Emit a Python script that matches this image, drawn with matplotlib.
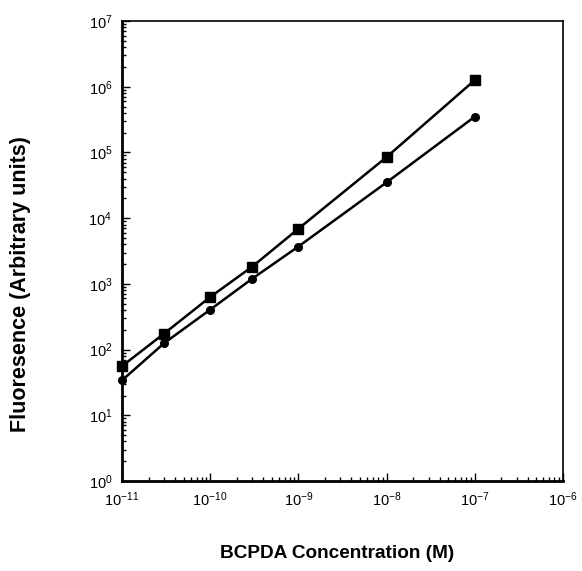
import numpy as np
import matplotlib
matplotlib.use("Agg")
import matplotlib.pyplot as plt
from matplotlib.ticker import LogLocator, NullFormatter

plt.rcParams["font.family"] = ["Liberation Sans", "DejaVu Sans"]
plt.rcParams["mathtext.fontset"] = "custom"
plt.rcParams["mathtext.rm"] = "Liberation Sans"
plt.rcParams["mathtext.it"] = "Liberation Sans"
plt.rcParams["mathtext.bf"] = "Liberation Sans:bold"

# BCPDA concentration (M)
concentration = [1e-11, 3e-11, 1e-10, 3e-10, 1e-9, 1e-8, 1e-7]
# fluorescence, square series
fluor_squares = [56, 175, 630, 1830, 6900, 85000, 1.26e6]
# fluorescence, circle series
fluor_circles = [34, 125, 405, 1200, 3700, 35000, 350000]

fig = plt.figure(figsize=(5.82, 5.71), dpi=100)
ax = fig.add_axes([0.2096, 0.1576, 0.7577, 0.8056])

ax.plot(concentration, fluor_squares, color="black", lw=1.8,
        marker="s", markersize=6.5, clip_on=False, zorder=3)
ax.plot(concentration, fluor_circles, color="black", lw=1.8,
        marker="o", markersize=5.5, clip_on=False, zorder=3)

ax.set_xscale("log")
ax.set_yscale("log")
ax.set_xlim(1e-11, 1e-6)
ax.set_ylim(1e0, 1e7)

ax.xaxis.set_major_locator(LogLocator(base=10, numticks=10))
ax.yaxis.set_major_locator(LogLocator(base=10, numticks=10))
ax.xaxis.set_minor_locator(LogLocator(base=10, subs=np.arange(2, 10), numticks=20))
ax.yaxis.set_minor_locator(LogLocator(base=10, subs=np.arange(2, 10), numticks=20))
ax.xaxis.set_minor_formatter(NullFormatter())
ax.yaxis.set_minor_formatter(NullFormatter())

ax.tick_params(which="both", direction="in", top=False, right=False,
               labelsize=10.5, width=1.0)
ax.tick_params(which="major", length=6, pad=7)
ax.tick_params(which="minor", length=3)
ax.tick_params(axis="x", pad=6.5)

for side in ["left", "bottom"]:
    ax.spines[side].set_linewidth(2.0)
for side in ["top", "right"]:
    ax.spines[side].set_linewidth(1.2)

fig.text(0.579, 0.016, "BCPDA Concentration (M)", ha="center", va="bottom",
         fontsize=13.7, fontweight="bold")
fig.text(0.036, 0.503, "Fluoresence (Arbitrary units)", ha="center", va="center",
         rotation=90, fontsize=15.5, fontweight="bold")

fig.savefig("out.png", dpi=100)
